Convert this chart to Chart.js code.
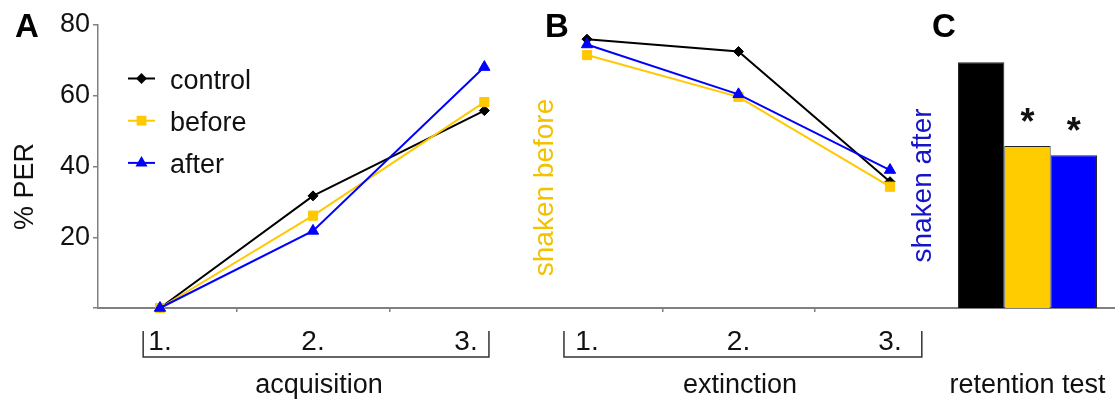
<!DOCTYPE html>
<html>
<head>
<meta charset="utf-8">
<script src="https://cdn.jsdelivr.net/npm/chart.js@4.4.0/dist/chart.umd.min.js"></script>
<style>
  body { margin: 0; background: #fff; }
  .wrap { position: relative; width: 1115px; height: 403px; }
  .wrap canvas { position: absolute; left: 0; top: 0; }
</style>
</head>
<body>
<div class="wrap">
  <canvas id="chartA" width="1115" height="403"></canvas>
  <canvas id="chartB" width="1115" height="403"></canvas>
  <canvas id="chartC" width="1115" height="403"></canvas>
</div>
<script>
// ===== data =====
const sessions = ["1.", "2.", "3."];
const groups = ["control", "before", "after"];
const phases = ["acquisition", "extinction", "retention test"];
const yTicks = [0, 20, 40, 60, 80];

// A: acquisition, % PER (3rd trial plotted a bit right of its label in the original)
const acqX = [1, 2, 3.12];
const acqControl = [0, 31.7, 55.8];
const acqBefore = [0, 26.1, 58.2];
const acqAfter = [0, 21.8, 68.1];

// B: extinction
const extX = [1, 2, 3];
const extControl = [76, 72.5, 35.7];
const extBefore = [71.5, 59.7, 34.3];
const extAfter = [74.5, 60.4, 39];

// C: retention test
const retention = [69.5, 45.8, 43.2];
const signif = ["", "*", "*"];

// ===== styles =====
const FONT = "'Liberation Sans', Arial, sans-serif";
const AXIS = "#808080";
const lineColors = ["#000000", "#FFC800", "#0000FF"];
const barColors = ["#000000", "#FFCC00", "#0000FF"];
const markers = ["rectRot", "rect", "triangle"];
const markerSize = [5, 6.5, 6.5];
const legendSize = [4, 5.5, 5];

Chart.defaults.font.family = FONT;
Chart.defaults.color = "#111";

function lineSets(xs, series) {
  return series.map((vals, i) => ({
    label: groups[i],
    data: vals.map((v, j) => ({ x: xs[j], y: v })),
    borderColor: lineColors[i],
    backgroundColor: lineColors[i],
    borderWidth: 2,
    pointStyle: markers[i],
    pointRadius: markerSize[i],
    pointBorderWidth: 1,
    order: 3 - i,
    clip: false,
  }));
}

function sessionAxis(min, max, title) {
  return {
    type: "linear",
    min: min,
    max: max,
    afterBuildTicks: (s) => {
      s.ticks = [1, 1.5, 2, 2.5, 3].map((v) => ({ value: v }));
    },
    afterFit: (s) => {
      s.height = 95;
    },
    ticks: {
      callback: (v) => (Number.isInteger(v) ? sessions[v - 1] : ""),
      font: { size: 28 },
      padding: 13,
      autoSkip: false,
      maxRotation: 0,
      color: "#111",
    },
    grid: {
      drawOnChartArea: false,
      tickLength: 4,
      lineWidth: 1.5,
      color: (c) =>
        c.tick && !Number.isInteger(c.tick.value) ? AXIS : "rgba(0,0,0,0)",
    },
    border: { color: AXIS, width: 2 },
    title: {
      display: true,
      text: title,
      font: { size: 27 },
      padding: { top: 0, bottom: 1 },
      color: "#111",
    },
  };
}

function drawBracket(chart, from, to) {
  const ctx = chart.ctx;
  const xs = chart.scales.x;
  const x1 = xs.getPixelForValue(from);
  const x2 = xs.getPixelForValue(to);
  ctx.save();
  ctx.strokeStyle = "#333";
  ctx.lineWidth = 1.5;
  ctx.beginPath();
  ctx.moveTo(x1, 331);
  ctx.lineTo(x1, 357);
  ctx.lineTo(x2, 357);
  ctx.lineTo(x2, 331);
  ctx.stroke();
  ctx.restore();
}

function panelLetter(ctx, letter, x) {
  ctx.save();
  ctx.font = "bold 33px " + FONT;
  ctx.fillStyle = "#000";
  ctx.textAlign = "left";
  ctx.textBaseline = "alphabetic";
  ctx.fillText(letter, x, 37);
  ctx.restore();
}

function sideText(ctx, text, x, y, color, size) {
  ctx.save();
  ctx.translate(x, y);
  ctx.rotate(-Math.PI / 2);
  ctx.font = size + "px " + FONT;
  ctx.fillStyle = color;
  ctx.textAlign = "center";
  ctx.textBaseline = "middle";
  ctx.fillText(text, 0, 0);
  ctx.restore();
}

// ===== panel A =====
const decorA = {
  id: "decorA",
  afterDraw(chart) {
    const ctx = chart.ctx;
    panelLetter(ctx, "A", 15);
    sideText(ctx, "% PER", 25.6, 186.5, "#111", 27);

    // legend: line + marker + name
    chart.data.datasets.forEach((ds, i) => {
      const y = 78.5 + i * 42.2;
      ctx.save();
      ctx.strokeStyle = ds.borderColor;
      ctx.fillStyle = ds.borderColor;
      ctx.lineWidth = 2;
      ctx.beginPath();
      ctx.moveTo(128, y);
      ctx.lineTo(155, y);
      ctx.stroke();
      Chart.helpers.drawPoint(
        ctx,
        { pointStyle: ds.pointStyle, radius: legendSize[i], borderWidth: 1, rotation: 0 },
        141.5,
        y
      );
      ctx.fillStyle = "#111";
      ctx.font = "27px " + FONT;
      ctx.textAlign = "left";
      ctx.textBaseline = "middle";
      ctx.fillText(ds.label, 170, y + 3);
      ctx.restore();
    });

    drawBracket(chart, 0.89, 3.15);
  },
};

new Chart(document.getElementById("chartA"), {
  type: "line",
  data: { datasets: lineSets(acqX, [acqControl, acqBefore, acqAfter]) },
  options: {
    responsive: false,
    animation: false,
    layout: { padding: { left: 0, right: 575, top: 25, bottom: 0 } },
    plugins: { legend: { display: false }, tooltip: { enabled: false } },
    scales: {
      x: sessionAxis(0.5948, 3.4837, phases[0]),
      y: {
        min: 0,
        max: 80,
        afterBuildTicks: (s) => {
          s.ticks = yTicks.map((v) => ({ value: v }));
        },
        afterFit: (s) => {
          s.width = 98;
        },
        ticks: {
          callback: (v) => (v === 0 ? "" : v),
          font: { size: 27 },
          padding: 3,
          color: "#111",
        },
        grid: { drawOnChartArea: false, tickLength: 5, color: AXIS, lineWidth: 1.5 },
        border: { color: AXIS, width: 1.5 },
      },
    },
  },
  plugins: [decorA],
});

// ===== panel B =====
const decorB = {
  id: "decorB",
  afterDraw(chart) {
    const ctx = chart.ctx;
    panelLetter(ctx, "B", 545);
    sideText(ctx, "shaken before", 545.3, 187.5, "#F2C200", 28);
    sideText(ctx, "shaken after", 923.3, 185.5, "#1515C8", 28);
    drawBracket(chart, 0.848, 3.21);
  },
};

new Chart(document.getElementById("chartB"), {
  type: "line",
  data: { datasets: lineSets(extX, [extControl, extBefore, extAfter]) },
  options: {
    responsive: false,
    animation: false,
    layout: { padding: { left: 540, right: 175, top: 25, bottom: 0 } },
    plugins: { legend: { display: false }, tooltip: { enabled: false } },
    scales: {
      x: sessionAxis(0.6898, 3.330, phases[1]),
      y: { display: false, min: 0, max: 80 },
    },
  },
  plugins: [decorB],
});

// ===== panel C =====
const decorC = {
  id: "decorC",
  afterDraw(chart) {
    const ctx = chart.ctx;
    panelLetter(ctx, "C", 932);
    ctx.save();
    ctx.font = "bold 36px " + FONT;
    ctx.fillStyle = "#111";
    ctx.textAlign = "center";
    ctx.textBaseline = "alphabetic";
    signif.forEach((s, i) => {
      if (!s) return;
      const bar = chart.getDatasetMeta(i).data[0];
      ctx.fillText(s, bar.x, bar.y - 12);
    });
    ctx.restore();
  },
};

new Chart(document.getElementById("chartC"), {
  type: "bar",
  data: {
    labels: [phases[2]],
    datasets: groups.map((g, i) => ({
      label: g,
      data: [retention[i]],
      backgroundColor: barColors[i],
      borderColor: "#222",
      borderWidth: 1,
      categoryPercentage: 0.794,
      barPercentage: 1,
    })),
  },
  options: {
    responsive: false,
    animation: false,
    layout: { padding: { left: 940, right: 0, top: 25, bottom: 0 } },
    plugins: { legend: { display: false }, tooltip: { enabled: false } },
    scales: {
      x: {
        afterFit: (s) => {
          s.height = 95;
        },
        ticks: { display: false },
        grid: { display: false },
        border: { color: AXIS, width: 2 },
        title: {
          display: true,
          text: phases[2],
          font: { size: 27 },
          padding: { top: 0, bottom: 1 },
          color: "#111",
        },
      },
      y: { display: false, min: 0, max: 80 },
    },
  },
  plugins: [decorC],
});
</script>
</body>
</html>
